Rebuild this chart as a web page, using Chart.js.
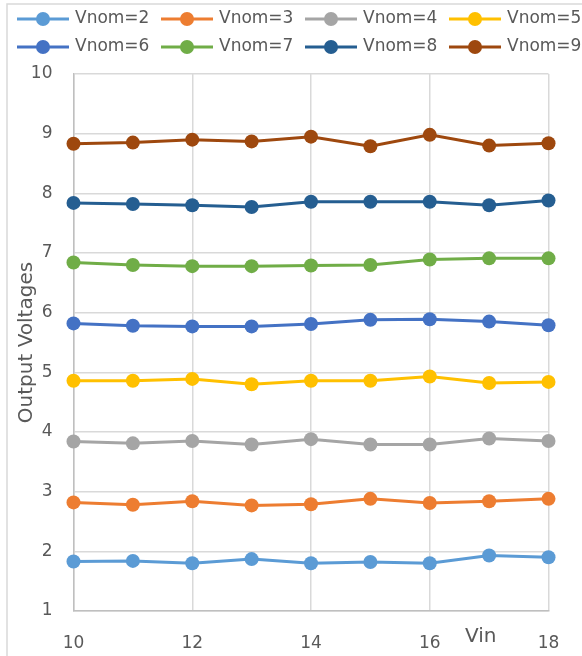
<!DOCTYPE html>
<html>
<head>
<meta charset="utf-8">
<script src="https://cdn.jsdelivr.net/npm/chart.js@4.4.1/dist/chart.umd.min.js"></script>
<style>
  html, body { margin: 0; padding: 0; background: #fff; }
  #wrap { width: 582px; height: 656px; }
</style>
</head>
<body>
<div id="wrap"><canvas id="chart" width="582" height="656"></canvas></div>
<script>
// input voltage (x axis)
const vin = [10, 11, 12, 13, 14, 15, 16, 17, 18];

// measured output voltages, one array per nominal setting
const vnom2 = [1.83, 1.84, 1.80, 1.87, 1.80, 1.82, 1.80, 1.93, 1.90];
const vnom3 = [2.82, 2.78, 2.84, 2.77, 2.79, 2.88, 2.81, 2.84, 2.88];
const vnom4 = [3.84, 3.81, 3.85, 3.79, 3.88, 3.79, 3.79, 3.89, 3.85];
const vnom5 = [4.86, 4.86, 4.89, 4.80, 4.86, 4.86, 4.93, 4.82, 4.84];
const vnom6 = [5.82, 5.78, 5.77, 5.77, 5.81, 5.88, 5.89, 5.85, 5.79];
const vnom7 = [6.84, 6.80, 6.78, 6.78, 6.79, 6.80, 6.89, 6.91, 6.91];
const vnom8 = [7.84, 7.82, 7.80, 7.77, 7.86, 7.86, 7.86, 7.80, 7.88];
const vnom9 = [8.83, 8.85, 8.90, 8.87, 8.95, 8.79, 8.98, 8.80, 8.84];

const seriesNames = ['Vnom=2', 'Vnom=3', 'Vnom=4', 'Vnom=5', 'Vnom=6', 'Vnom=7', 'Vnom=8', 'Vnom=9'];
const seriesValues = [vnom2, vnom3, vnom4, vnom5, vnom6, vnom7, vnom8, vnom9];
const seriesColors = ['#5B9BD5', '#ED7D31', '#A5A5A5', '#FFC000', '#4472C4', '#70AD47', '#255E91', '#9E480E'];

const xAxisTitle = 'Vin';
const yAxisTitle = 'Output Voltages';

const textColor = '#595959';
const gridColor = '#d9d9d9';

// Excel style legend (line + marker) and the frame of the chart
const excelLegend = {
  id: 'excelLegend',
  beforeDraw(chart) {
    const ctx = chart.ctx;
    ctx.save();
    ctx.fillStyle = '#fff';
    ctx.fillRect(0, 0, chart.width, chart.height);
    ctx.strokeStyle = gridColor;
    ctx.lineWidth = 1.5;
    ctx.beginPath();
    ctx.moveTo(7, chart.height);
    ctx.lineTo(7, 4);
    ctx.lineTo(chart.width, 4);
    ctx.stroke();
    ctx.restore();
  },
  afterDraw(chart) {
    const ctx = chart.ctx;
    ctx.save();
    ctx.font = '17px "DejaVu Sans"';
    ctx.textBaseline = 'middle';
    chart.data.datasets.forEach((ds, i) => {
      const x = 17 + (i % 4) * 144;
      const y = 19 + Math.floor(i / 4) * 28;
      ctx.strokeStyle = ds.borderColor;
      ctx.lineWidth = 3;
      ctx.beginPath();
      ctx.moveTo(x, y);
      ctx.lineTo(x + 52, y);
      ctx.stroke();
      ctx.fillStyle = ds.borderColor;
      ctx.beginPath();
      ctx.arc(x + 26, y, 7, 0, Math.PI * 2);
      ctx.fill();
      ctx.fillStyle = textColor;
      ctx.fillText(ds.label, x + 58, y);
    });
    // x axis title sits on the tick label row, between 16 and 18
    const xs = chart.scales.x;
    ctx.font = '20px "DejaVu Sans"';
    ctx.textAlign = 'center';
    ctx.fillText(xAxisTitle, xs.getPixelForValue(16.86), 637);
    ctx.restore();
  }
};

const datasets = seriesNames.map((name, i) => ({
  label: name,
  data: vin.map((v, j) => ({ x: v, y: seriesValues[i][j] })),
  borderColor: seriesColors[i],
  backgroundColor: seriesColors[i],
  borderWidth: 3,
  pointRadius: 7,
  pointHoverRadius: 7,
  pointBorderWidth: 0,
  tension: 0,
  clip: false
}));

new Chart(document.getElementById('chart'), {
  type: 'line',
  data: { datasets },
  plugins: [excelLegend],
  options: {
    responsive: false,
    animation: false,
    devicePixelRatio: 1,
    layout: { padding: { top: 74, right: 33.5, bottom: 0, left: 0 } },
    plugins: {
      legend: { display: false },
      tooltip: { enabled: false }
    },
    scales: {
      x: {
        type: 'linear',
        min: 10,
        max: 18,
        ticks: {
          stepSize: 2,
          color: textColor,
          font: { family: 'DejaVu Sans', size: 17 },
          padding: 22,
          maxRotation: 0
        },
        grid: { color: gridColor, lineWidth: 1.5, drawTicks: false },
        border: { color: '#bfbfbf', width: 1.5 },
        afterFit(scale) { scale.height = 45; }
      },
      y: {
        min: 1,
        max: 10,
        ticks: {
          stepSize: 1,
          color: textColor,
          font: { family: 'DejaVu Sans', size: 17 },
          padding: 21
        },
        grid: { color: gridColor, lineWidth: 1.5, drawTicks: false },
        border: { color: '#bfbfbf', width: 1.5 },
        title: {
          display: true,
          text: yAxisTitle,
          color: textColor,
          font: { family: 'DejaVu Sans', size: 20 },
          padding: { top: 15, bottom: 0 }
        },
        afterFit(scale) { scale.width = 73.5; }
      }
    }
  }
});
</script>
</body>
</html>
